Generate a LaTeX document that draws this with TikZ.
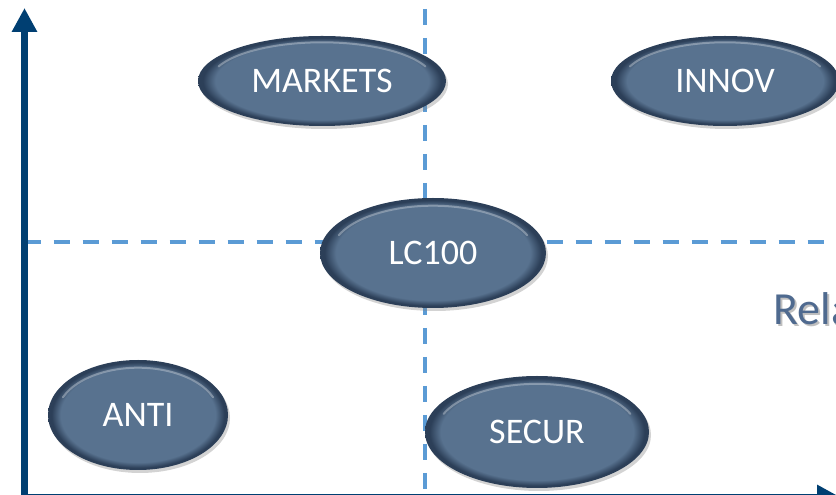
\documentclass[tikz,border=0pt]{standalone}
\usepackage{fontspec}
\setmainfont{Carlito}
\usepackage{tikz}
\usetikzlibrary{
  calc, shapes.geometric, shadows, arrows.meta
}

\definecolor{axisblue}{RGB}{0,63,114}
\definecolor{gridblue}{RGB}{91,155,213}
\definecolor{bubblemid}{RGB}{88,114,143}
\definecolor{bubbleedge}{RGB}{44,63,88}
\definecolor{relgray}{RGB}{79,106,143}

\pgfdeclareradialshading{bubbleshade}{\pgfpoint{0bp}{0bp}}{%
  color(0bp)=(bubblemid); color(21.5bp)=(bubblemid);
  color(24bp)=(bubbleedge); color(25bp)=(bubbleedge); color(50bp)=(bubbleedge)}

% name, x, y, x radius, y radius, text
\newcommand{\bubble}[6]{%
  \node[bubble, minimum width={2*#4}, minimum height={2*#5}] (#1) at (#2,#3) {#6};
  \draw[bubbleshine] ([shift={(#1.center)}]158:{0.9*#4} and {0.86*#5})
    arc[start angle=158, end angle=22, x radius={0.9*#4}, y radius={0.86*#5}];
}

\begin{document}
\begin{tikzpicture}[x=1pt, y=1pt,
    axis/.style={line width=7pt, axisblue, -{Triangle[length=24pt,width=24pt]}},
    grid/.style={line width=3.5pt, gridblue, dash pattern=on 16pt off 13pt},
    bubble/.style={ellipse, shading=bubbleshade, inner sep=0pt, text=white,
      font=\fontsize{36}{36}\selectfont,
      drop shadow={opacity=.35, shadow xshift=2pt, shadow yshift=-3pt}},
    bubbleshine/.style={white, opacity=.3, line width=2pt, line cap=round}]
        \path[use as bounding box] (0,0) rectangle (836,495);
        \clip (0,0) rectangle (836,495);
        \pgfmathsetmacro{\ax}{24.5}
        \pgfmathsetmacro{\ay}{-2.5}
        \pgfmathsetmacro{\mx}{425}
        \pgfmathsetmacro{\my}{253}
        \coordinate (O) at (\ax,\ay);
        \coordinate (Y) at (\ax,487);
        \coordinate (X) at (841,\ay);
        \coordinate (hL) at (\ax,\my);
        \coordinate (hR) at (840,\my);
        \coordinate (vT) at (\mx,495);
        \coordinate (vB) at (\mx,0);
        % quadrant lines
        \draw[grid] (hL) -- (hR);
        \draw[grid, dash phase=20pt] (vT) -- (vB);
        % axes
        \draw[axis] ($ (O) + (0,-4) $) -- (Y);
        \draw[axis] ($ (O) + (-3.5,0) $) -- (X);
        \node[text=black, opacity=.25, anchor=base west, font=\fontsize{46}{46}\selectfont]
          (relshadow) at (771.5,168.5) {Rela};
        \node[text=relgray, anchor=base west, font=\fontsize{46}{46}\selectfont]
          (rel) at (770,170) {Rela};
        % the five bubbles
        \bubble{markets}{322}{414}{124}{45}{MARKETS}
        \bubble{innov}{725}{414}{114}{45}{INNOV}
        \bubble{lc}{433}{242}{113}{55}{LC100}
        \bubble{anti}{138}{80}{90}{55}{ANTI}
        \bubble{secur}{537}{63}{112}{56}{SECUR}
    \end{tikzpicture}
\end{document}
